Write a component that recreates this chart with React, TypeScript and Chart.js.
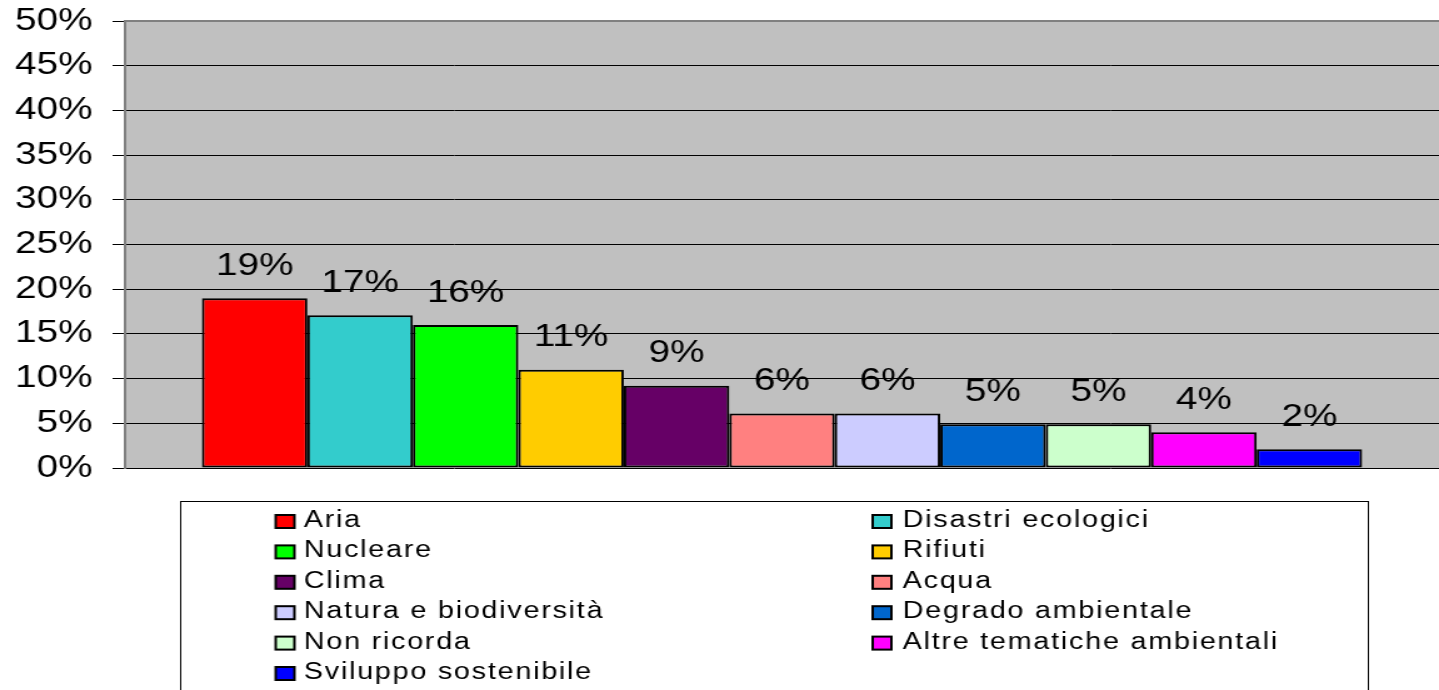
import React, { useEffect, useRef } from "react";
import { Chart, registerables } from "chart.js";

Chart.register(...registerables);

const categories = [
  "Aria",
  "Disastri ecologici",
  "Nucleare",
  "Rifiuti",
  "Clima",
  "Acqua",
  "Natura e biodiversità",
  "Degrado ambientale",
  "Non ricorda",
  "Altre tematiche ambientali",
  "Sviluppo sostenibile",
];
const values = [19, 17.1, 16, 11, 9.2, 6.1, 6.1, 4.9, 4.9, 4.0, 2.1];
const valueLabels = ["19%", "17%", "16%", "11%", "9%", "6%", "6%", "5%", "5%", "4%", "2%"];
const colors = [
  "#FF0000",
  "#33CCCC",
  "#00FF00",
  "#FFCC00",
  "#660066",
  "#FF8080",
  "#CCCCFF",
  "#0066CC",
  "#CCFFCC",
  "#FF00FF",
  "#0000FF",
];
const yTicks = [0, 5, 10, 15, 20, 25, 30, 35, 40, 45, 50];
const yTickLabels = ["0%", "5%", "10%", "15%", "20%", "25%", "30%", "35%", "40%", "45%", "50%"];

const SCALE_X = 1.25;
const CSS_W = 1439;
const CSS_H = 690;
const CANVAS_W = Math.round(CSS_W / SCALE_X);
const FONT = '"Liberation Sans", Arial, sans-serif';

const decorPlugin = {
  id: "decor",
  beforeDraw(chart: any) {
    const { ctx, chartArea } = chart;
    ctx.save();
    ctx.fillStyle = "#C0C0C0";
    ctx.fillRect(chartArea.left, chartArea.top, chartArea.right - chartArea.left, chartArea.bottom - chartArea.top);
    ctx.restore();
  },
  beforeDatasetsDraw(chart: any) {
    const { ctx, chartArea } = chart;
    ctx.save();
    ctx.strokeStyle = "#808080";
    ctx.lineWidth = 2;
    ctx.beginPath();
    ctx.moveTo(chartArea.left, chartArea.top);
    ctx.lineTo(chartArea.right, chartArea.top);
    ctx.stroke();
    ctx.restore();
  },
  afterDatasetsDraw(chart: any) {
    const { ctx } = chart;
    ctx.save();
    ctx.font = `31px ${FONT}`;
    ctx.fillStyle = "#000";
    ctx.textAlign = "center";
    ctx.textBaseline = "middle";
    chart.data.datasets.forEach((ds: any, i: number) => {
      const meta = chart.getDatasetMeta(i);
      const bar = meta.data[0];
      if (!bar) return;
      ctx.fillText(valueLabels[i], bar.x, bar.y - 32);
    });
    ctx.restore();
  },
  afterDraw(chart: any) {
    const { ctx } = chart;
    ctx.save();
    ctx.strokeStyle = "#000";
    ctx.lineWidth = 1;
    ctx.strokeRect(144.5, 501.5, 1094 - 144, 230);
    ctx.font = `23px ${FONT}`;
    try {
      (ctx as any).letterSpacing = "1.4px";
    } catch (e) {}
    ctx.textBaseline = "alphabetic";
    ctx.textAlign = "left";
    chart.data.datasets.forEach((ds: any, i: number) => {
      const col = i % 2;
      const row = Math.floor(i / 2);
      const base = 527 + row * 30.4;
      const sqX = col ? 698 : 220.5;
      const txX = col ? 722 : 243;
      ctx.fillStyle = ds.backgroundColor;
      ctx.fillRect(sqX, base - 12, 15, 13);
      ctx.strokeStyle = "#000";
      ctx.lineWidth = 2;
      ctx.strokeRect(sqX, base - 12, 15, 13);
      ctx.fillStyle = "#000";
      ctx.fillText(ds.label, txX, base);
    });
    ctx.restore();
  },
};

export default function App() {
  const ref = useRef<HTMLCanvasElement>(null);
  useEffect(() => {
    document.body.style.margin = "0";
    const canvas = ref.current!;
    const chart = new Chart(canvas, {
      type: "bar",
      data: {
        labels: [""],
        datasets: categories.map((c, i) => ({
          label: c,
          data: [values[i]],
          backgroundColor: colors[i],
          borderColor: "#000",
          borderWidth: 2,
          borderSkipped: false,
          categoryPercentage: 0.883,
          barPercentage: 1,
        })),
      },
      options: {
        animation: false,
        responsive: false,
        devicePixelRatio: 1,
        layout: { padding: { top: 21, right: 0, bottom: 222, left: 0 } },
        plugins: { legend: { display: false }, tooltip: { enabled: false } },
        scales: {
          x: { display: false, grid: { display: false } },
          y: {
            min: 0,
            max: 50,
            afterBuildTicks: (s: any) => {
              s.ticks = yTicks.map((v) => ({ value: v }));
            },
            ticks: {
              callback: (v: any) => yTickLabels[yTicks.indexOf(Number(v))] ?? "",
              font: { size: 31, family: FONT },
              color: "#000",
              padding: 16,
            },
            grid: { color: "#000", lineWidth: 1, tickLength: 10 },
            border: { color: "#808080", width: 2 },
            afterFit: (s: any) => {
              s.width = 100;
              s.paddingTop = 0;
              s.paddingBottom = 0;
            },
          },
        },
      } as any,
      plugins: [decorPlugin],
    });
    return () => chart.destroy();
  }, []);
  return (
    <div style={{ position: "fixed", left: 0, top: 0, width: CSS_W, height: CSS_H, background: "#fff" }}>
      <canvas
        ref={ref}
        width={CANVAS_W}
        height={CSS_H}
        style={{ width: CSS_W + "px", height: CSS_H + "px", display: "block" }}
      />
    </div>
  );
}
